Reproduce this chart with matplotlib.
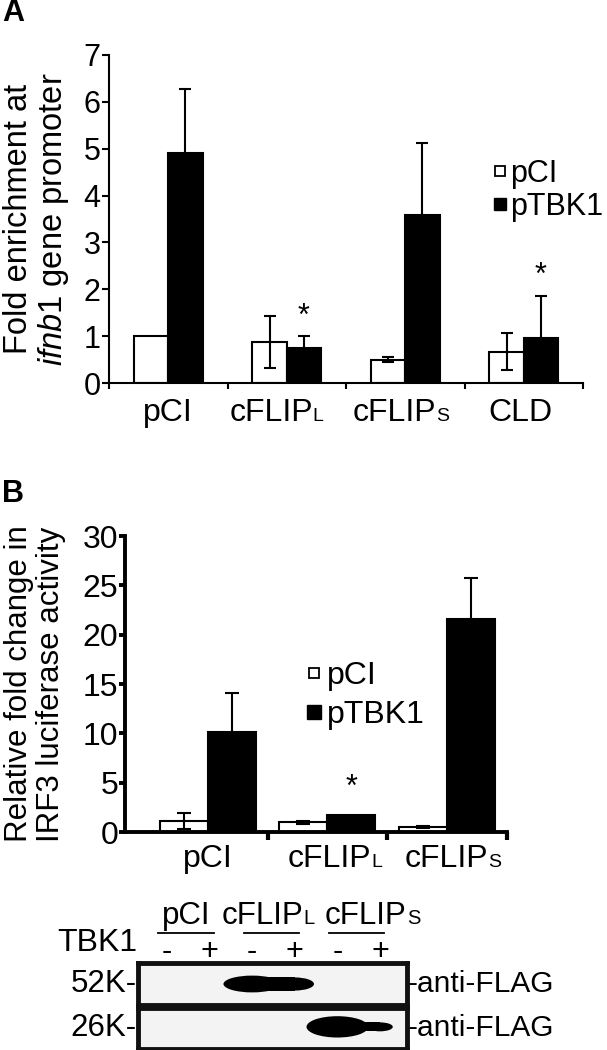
import matplotlib
matplotlib.use("Agg")
import matplotlib.pyplot as plt
import numpy as np
from matplotlib.patches import Ellipse, Rectangle
from matplotlib.lines import Line2D
from matplotlib.transforms import blended_transform_factory

plt.rcParams['font.family'] = ['Liberation Sans', 'DejaVu Sans']
plt.rcParams['mathtext.fontset'] = 'custom'
plt.rcParams['mathtext.rm'] = 'Liberation Sans'
plt.rcParams['mathtext.it'] = 'Liberation Sans:italic'

# ---------------- data ----------------
# Panel A
a_groups = ['pCI', 'cFLIP', 'cFLIP', 'CLD']
a_suffix = ['', 'L', 'S', '']
a_pci = [1.00, 0.87, 0.50, 0.67]
a_pci_err = [0.00, 0.55, 0.06, 0.40]
a_tbk = [4.90, 0.75, 3.59, 0.95]
a_tbk_err = [1.37, 0.26, 1.53, 0.91]
a_star = [None, 1.40, None, 2.28]
a_yticks = [0, 1, 2, 3, 4, 5, 6, 7]

# Panel B
b_groups = ['pCI', 'cFLIP', 'cFLIP']
b_suffix = ['', 'L', 'S']
b_pci = [1.1, 1.0, 0.5]
b_pci_err = [0.8, 0.15, 0.1]
b_tbk = [10.1, 1.7, 21.6]
b_tbk_err = [4.0, 0.0, 4.1]
b_star = [None, 4.5, None]
b_yticks = [0, 5, 10, 15, 20, 25, 30]

series_labels = ['pCI', 'pTBK1']

# Western blot
blot_groups = ['pCI', 'cFLIP', 'cFLIP']
blot_suffix = ['', 'L', 'S']
blot_tbk1 = ['-', '+', '-', '+', '-', '+']
blot_rows = ['52K-', '26K-']
blot_antibody = ['-anti-FLAG', '-anti-FLAG']
band_52k = [0, 0, 1.0, 0.78, 0, 0]
band_26k = [0, 0, 0, 0, 1.0, 0.42]

# ---------------- layout helpers ----------------
W, H = 607, 1050
fig = plt.figure(figsize=(W / 100, H / 100), dpi=100)


def fx(px):
    return px / W


def fy(py):
    return 1 - py / H


def axes_px(left, top, right, bottom):
    return fig.add_axes([fx(left), fy(bottom), (right - left) / W, (bottom - top) / H])


def two_part_label(x, y, main, suffix, size, small, trans, junction_off):
    if suffix:
        fig.text(x + junction_off, y, main, ha='right', va='baseline',
                 fontsize=size, transform=trans)
        fig.text(x + junction_off, y, suffix, ha='left', va='baseline',
                 fontsize=small, transform=trans)
    else:
        fig.text(x + junction_off, y, main, ha='center', va='baseline',
                 fontsize=size, transform=trans)


def bar_panel(ax, pci, pci_err, tbk, tbk_err, width, spine_lw, ytick_len,
              xtick_len, xtick_w, ytick_size, cap, elw):
    x = np.arange(len(pci))
    ax.bar(x - width / 2, pci, width, color='white', edgecolor='black',
           linewidth=1.5, zorder=2)
    ax.bar(x + width / 2, tbk, width, color='black', edgecolor='black',
           linewidth=1.5, zorder=2)
    for xs, v, e in ((x - width / 2, pci, pci_err), (x + width / 2, tbk, tbk_err)):
        v = np.asarray(v, float)
        e = np.asarray(e, float)
        m = e > 0
        ax.errorbar(xs[m], v[m], yerr=e[m], fmt='none', ecolor='black',
                    elinewidth=elw, capsize=cap, capthick=elw, zorder=3)
    for s in ('top', 'right'):
        ax.spines[s].set_visible(False)
    for s in ('left', 'bottom'):
        ax.spines[s].set_linewidth(spine_lw)
    ax.tick_params(axis='y', direction='out', length=ytick_len, width=spine_lw,
                   labelsize=ytick_size, pad=1)
    ax.tick_params(axis='x', direction='out', length=xtick_len, width=xtick_w,
                   labelbottom=False)
    return x


# ---------------- Panel A ----------------
axA = axes_px(109, 55, 583, 383)
xA = bar_panel(axA, a_pci, a_pci_err, a_tbk, a_tbk_err, 0.29, 1.5, 5, 4.5, 1.5,
               22, 4.3, 1.5)
axA.set_xlim(-0.5, len(a_groups) - 0.5)
axA.set_ylim(0, 7)
axA.set_yticks(a_yticks)
axA.set_xticks(np.arange(len(a_groups) + 1) - 0.5)
for i, s in enumerate(a_star):
    if s is not None:
        axA.text(xA[i] + 0.145, s, '*', ha='center', va='center', fontsize=22)

transA = blended_transform_factory(axA.transData, fig.transFigure)
a_off = [0.0, 0.22, 0.26, -0.03]
for i, (g, sfx) in enumerate(zip(a_groups, a_suffix)):
    two_part_label(xA[i], fy(421), g, sfx, 23, 14, transA, a_off[i])

fig.text(fx(37), fy(219), "Fold enrichment at\n$\\mathit{ifnb1}$ gene promoter",
         rotation=90, ha='center', va='center', fontsize=23.5, multialignment='center',
         linespacing=1.1)
fig.text(fx(2), fy(-2), 'A', ha='left', va='top', fontsize=22, fontweight='bold')

hA = [Line2D([], [], marker='s', ls='none', mfc='white', mec='black', mew=1.3, ms=6.5),
      Line2D([], [], marker='s', ls='none', mfc='black', mec='black', ms=8)]
axA.legend(hA, series_labels, loc='upper left', bbox_to_anchor=(fx(494), fy(159)),
           bbox_transform=fig.transFigure, frameon=False, fontsize=22,
           handlelength=0.4, handletextpad=0.12, labelspacing=0.1, borderpad=0,
           borderaxespad=0)

# ---------------- Panel B ----------------
axB = axes_px(125, 536, 507, 832)
xB = bar_panel(axB, b_pci, b_pci_err, b_tbk, b_tbk_err, 0.40, 2.8, 4, 6, 3.0,
               23, 4.7, 1.5)
axB.set_xlim(-0.69, len(b_groups) - 0.5)
axB.set_ylim(0, 30)
axB.set_yticks(b_yticks)
axB.set_xticks(np.arange(1, len(b_groups) + 1) - 0.5)
for i, s in enumerate(b_star):
    if s is not None:
        axB.text(xB[i] + 0.2, s, '*', ha='center', va='center', fontsize=22)

transB = blended_transform_factory(axB.transData, fig.transFigure)
b_off = [0.0, 0.37, 0.34]
for i, (g, sfx) in enumerate(zip(b_groups, b_suffix)):
    two_part_label(xB[i], fy(867), g, sfx, 23, 14, transB, b_off[i])

fig.text(fx(35), fy(684), "Relative fold change in\nIRF3 luciferase activity",
         rotation=90, ha='center', va='center', fontsize=22.5, multialignment='center',
         linespacing=1.05)
fig.text(fx(2), fy(479), 'B', ha='left', va='top', fontsize=22, fontweight='bold')

hB = [Line2D([], [], marker='s', ls='none', mfc='white', mec='black', mew=1.3, ms=7.5),
      Line2D([], [], marker='s', ls='none', mfc='black', mec='black', ms=9.5)]
axB.legend(hB, series_labels, loc='upper left', bbox_to_anchor=(fx(308), fy(661)),
           bbox_transform=fig.transFigure, frameon=False, fontsize=23,
           handlelength=0.4, handletextpad=0.18, labelspacing=0.29, borderpad=0,
           borderaxespad=0)

# ---------------- Western blot ----------------
lane0_px, lane_step = 167, 42.6
blot_left, blot_right = 138, 407
xl = (blot_left - lane0_px) / lane_step
xr = (blot_right - lane0_px) / lane_step
row_px = [(963, 1005), (1008, 1049)]
band_rows = [band_52k, band_26k]
band_scale = [0.40, 0.52]
band_cy = [0.5, 0.54]
band_lead_w = [1.35, 1.45]
band_tail_w = [0.9, 0.6]
blot_axes = []
for r, (top, bot) in enumerate(row_px):
    ab = axes_px(blot_left, top, blot_right, bot)
    ab.set_xlim(xl, xr)
    ab.set_ylim(0, 1)
    ab.set_facecolor('#f3f3f3')
    ab.set_xticks([])
    ab.set_yticks([])
    for s in ab.spines.values():
        s.set_linewidth(3.5)
        s.set_color('#111111')
    vals = band_rows[r]
    lanes_on = [i for i, v in enumerate(vals) if v > 0]
    for i in lanes_on:
        h = band_scale[r] * vals[i]
        w = band_lead_w[r] if i == lanes_on[0] else band_tail_w[r]
        ab.add_patch(Ellipse((i, band_cy[r]), w, h, color='black', lw=0))
        nxt = vals[i + 1] if i + 1 < len(vals) else 0
        if nxt > 0:
            hn = band_scale[r] * nxt
            ab.add_patch(Rectangle((i, band_cy[r] - hn / 2), 1.0, hn,
                                   color='black', lw=0))
    blot_axes.append(ab)
    yc = fy((top + bot) / 2)
    fig.text(fx(blot_left - 1), yc, blot_rows[r], ha='right', va='center',
             fontsize=22.5)
    fig.text(fx(blot_right + 1), yc, blot_antibody[r], ha='left', va='center',
             fontsize=21.5)

transL = blended_transform_factory(blot_axes[0].transData, fig.transFigure)
for i, sgn in enumerate(blot_tbk1):
    fig.text(i, fy(952), sgn, ha='center', va='center', fontsize=22, transform=transL)
fig.text(fx(137), fy(943), 'TBK1', ha='right', va='center', fontsize=23)
blot_off = [-0.05, 0.7, 1.13]
for k, (g, sfx) in enumerate(zip(blot_groups, blot_suffix)):
    c = 2 * k + 0.5
    two_part_label(c, fy(924), g, sfx, 22.5, 14.5, transL, blot_off[k])
    fig.add_artist(Line2D([2 * k - 0.2, 2 * k + 1.1], [fy(933), fy(933)],
                          color='black', lw=1.3, transform=transL))

fig.savefig('out.png', dpi=100)
